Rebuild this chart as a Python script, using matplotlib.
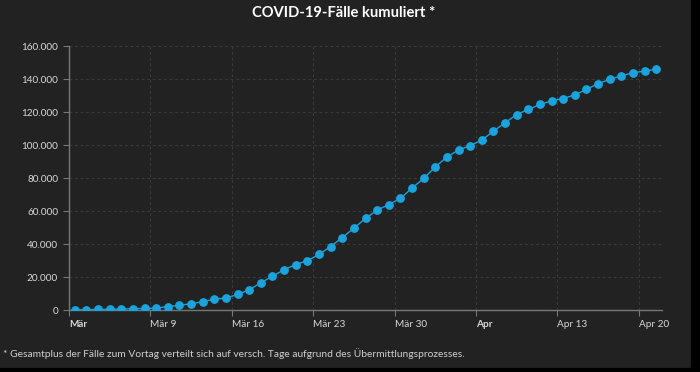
import numpy as np
import pandas as pd
import matplotlib
matplotlib.use("Agg")
import matplotlib.pyplot as plt
import matplotlib.transforms as mtransforms
from matplotlib.ticker import FuncFormatter

# cumulative cases, one value per day (Mar 2 .. Apr 21)
start_day = "2020-03-02"
cases = [200, 400, 500, 600, 700, 1000, 1100, 1300, 2300, 3000,
         4000, 5200, 6800, 7400, 9600, 12400, 16700, 20600, 24600, 27700,
         30000, 33800, 38600, 44000, 49700, 55600, 60600, 64000, 67700, 74000,
         79800, 86800, 92800, 97000, 99700, 103000, 108400, 113500, 118500, 121600,
         124600, 126800, 128200, 130400, 133700, 137200, 139800, 141900, 143800, 144800,
         145900]

tick_days = ["2020-03-02", "2020-03-09", "2020-03-16", "2020-03-23", "2020-03-30",
             "2020-04-06", "2020-04-13", "2020-04-20"]
tick_labels = ["Mär", "Mär 9", "Mär 16", "Mär 23", "Mär 30", "Apr", "Apr 13", "Apr 20"]
bold_labels = ["Mär", "Apr"]

title = "COVID-19-Fälle kumuliert *"
footnote = ("* Gesamtplus der Fälle zum Vortag verteilt sich auf versch. Tage "
            "aufgrund des Übermittlungsprozesses.")

bg = "#222222"
blue = "#1aa3dd"
plt.rcParams['font.family'] = ['Lato', 'DejaVu Sans']

days = pd.date_range(start_day, periods=len(cases)) + pd.Timedelta(hours=12)

fig = plt.figure(figsize=(7.0, 3.72), dpi=100, facecolor=bg)
ax = fig.add_axes([69/700, 1-310.3/372, (662-69)/700, (310.3-46)/372])
ax.set_facecolor(bg)

ax.plot(days, cases, color=blue, lw=1, marker="o", ms=5.3, mec=blue, mfc=blue, zorder=3)

ax.set_xlim(pd.Timestamp(start_day), pd.Timestamp(start_day) + pd.Timedelta(days=len(cases)))
ax.set_ylim(0, 160000)
ax.set_yticks(np.arange(0, 160001, 20000))
ax.yaxis.set_major_formatter(FuncFormatter(lambda v, p: "{:,.0f}".format(v).replace(",", ".")))

ax.set_xticks(pd.to_datetime(tick_days))
ax.set_xticklabels(tick_labels)
shift = mtransforms.ScaledTranslation(3/100, 0, fig.dpi_scale_trans)
for lab in ax.get_xticklabels():
    lab.set_horizontalalignment("left")
    lab.set_transform(lab.get_transform() + shift)
    if lab.get_text() in bold_labels:
        lab.set_fontweight("bold")
        lab.set_color("#f0f0f0")

ax.grid(True, color="#3a3a3a", ls=(0, (2.5, 2.5)), lw=0.8)
ax.set_axisbelow(True)
for s in ["top", "right"]:
    ax.spines[s].set_visible(False)
for s in ["left", "bottom"]:
    ax.spines[s].set_color("#777777")
    ax.spines[s].set_linewidth(1)
ax.tick_params(colors="#777777", labelcolor="#d8d8d8", labelsize=7.2, length=4.3, width=0.8)
ax.tick_params(axis="y", pad=3.5)
ax.tick_params(axis="x", pad=2.5)

fig.text(343.5/700, 1-13/372, title, ha="center", va="center", color="white",
         fontsize=10.6, fontweight="bold")
fig.text(3/700, 1-354/372, footnote, ha="left", va="center", color="#cfcfcf", fontsize=7.4)

# black border of the screenshot on the right and at the bottom
fig.patches.append(plt.Rectangle((691/700, 0), 9/700, 1, transform=fig.transFigure,
                                 color="black", zorder=0))
fig.patches.append(plt.Rectangle((0, 0), 1, 4/372, transform=fig.transFigure,
                                 color="black", zorder=0))

fig.savefig("out.png", dpi=100, facecolor=bg)
